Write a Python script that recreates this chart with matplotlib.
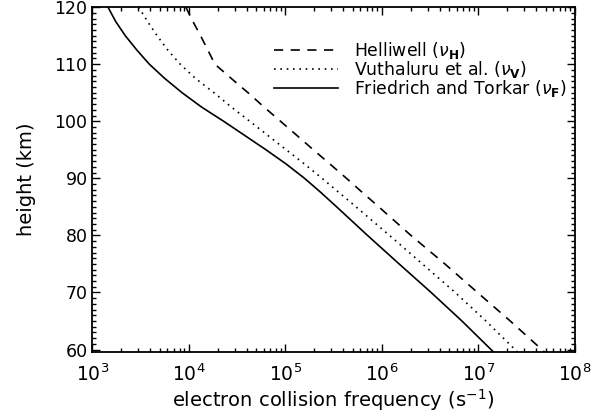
import matplotlib
matplotlib.use('Agg')
import matplotlib.pyplot as plt
from matplotlib.ticker import MultipleLocator

plt.rcParams['font.family'] = ['DejaVu Sans']
plt.rcParams['mathtext.fontset'] = 'dejavusans'

# Collision frequency profiles (s^-1) vs height (km)
height = [120, 117.5, 115, 112.5, 110, 107.5, 105, 102.5, 100, 97.5,
          95, 92.5, 90, 87.5, 85, 80, 75, 70, 65, 59.5]
nu_helliwell = [9.3e3, 1.1e4, 1.32e4, 1.57e4, 1.86e4, 2.75e4, 4.1e4, 6.0e4,
                8.9e4, 1.32e5, 1.95e5, 2.9e5, 4.3e5, 6.3e5, 9.3e5, 2.0e6,
                4.5e6, 9.8e6, 2.14e7, 4.9e7]
nu_vuthaluru = [3.02e3, 3.72e3, 4.68e3, 6.03e3, 8.13e3, 1.17e4, 1.82e4,
                2.75e4, 4.27e4, 6.6e4, 1.02e5, 1.58e5, 2.4e5, 3.6e5, 5.4e5,
                1.2e6, 2.63e6, 5.75e6, 1.2e7, 2.57e7]
nu_friedrich = [1.45e3, 1.74e3, 2.19e3, 2.88e3, 3.89e3, 5.62e3, 8.5e3,
                1.35e4, 2.29e4, 3.8e4, 6.3e4, 1.02e5, 1.58e5, 2.34e5, 3.4e5,
                7.1e5, 1.51e6, 3.24e6, 6.76e6, 1.45e7]

fig = plt.figure(figsize=(6, 4.18), dpi=100)
ax = fig.add_axes([0.154, 0.157, 0.804, 0.826])

ax.plot(nu_helliwell, height, color='black', lw=1.2, dashes=(5.5, 4.5),
        label=r'Helliwell ($\nu_{\mathbf{H}}$)')
ax.plot(nu_vuthaluru, height, color='black', lw=1.2, dashes=(1, 2.8),
        label=r'Vuthaluru et al. ($\nu_{\mathbf{V}}$)')
ax.plot(nu_friedrich, height, color='black', lw=1.2,
        label=r'Friedrich and Torkar ($\nu_{\mathbf{F}}$)')

ax.set_xscale('log')
ax.set_xlim(1e3, 1e8)
ax.set_ylim(59.5, 120)
ax.yaxis.set_major_locator(MultipleLocator(10))
ax.yaxis.set_minor_locator(MultipleLocator(1))

ax.tick_params(which='both', direction='in', top=True, right=True, width=1.0)
ax.tick_params(which='major', length=5.5)
ax.tick_params(which='minor', length=2.7)
ax.tick_params(axis='x', which='major', pad=8, labelsize=13.5)
ax.tick_params(axis='y', which='major', pad=3.5, labelsize=12.5)
for sp in ax.spines.values():
    sp.set_linewidth(1.3)

ax.set_xlabel(r'electron collision frequency (s$^{-1}$)', fontsize=14)
ax.set_ylabel('height (km)', fontsize=14)
ax.xaxis.set_label_coords(0.5, -0.1)
ax.yaxis.set_label_coords(-0.116, 0.5)

ax.legend(loc='upper left', bbox_to_anchor=(0.376, 0.905), frameon=False,
          fontsize=12.4, handlelength=3.7, handletextpad=0.95,
          labelspacing=-0.1, borderaxespad=0, borderpad=0)

fig.savefig('out.png', dpi=100)
